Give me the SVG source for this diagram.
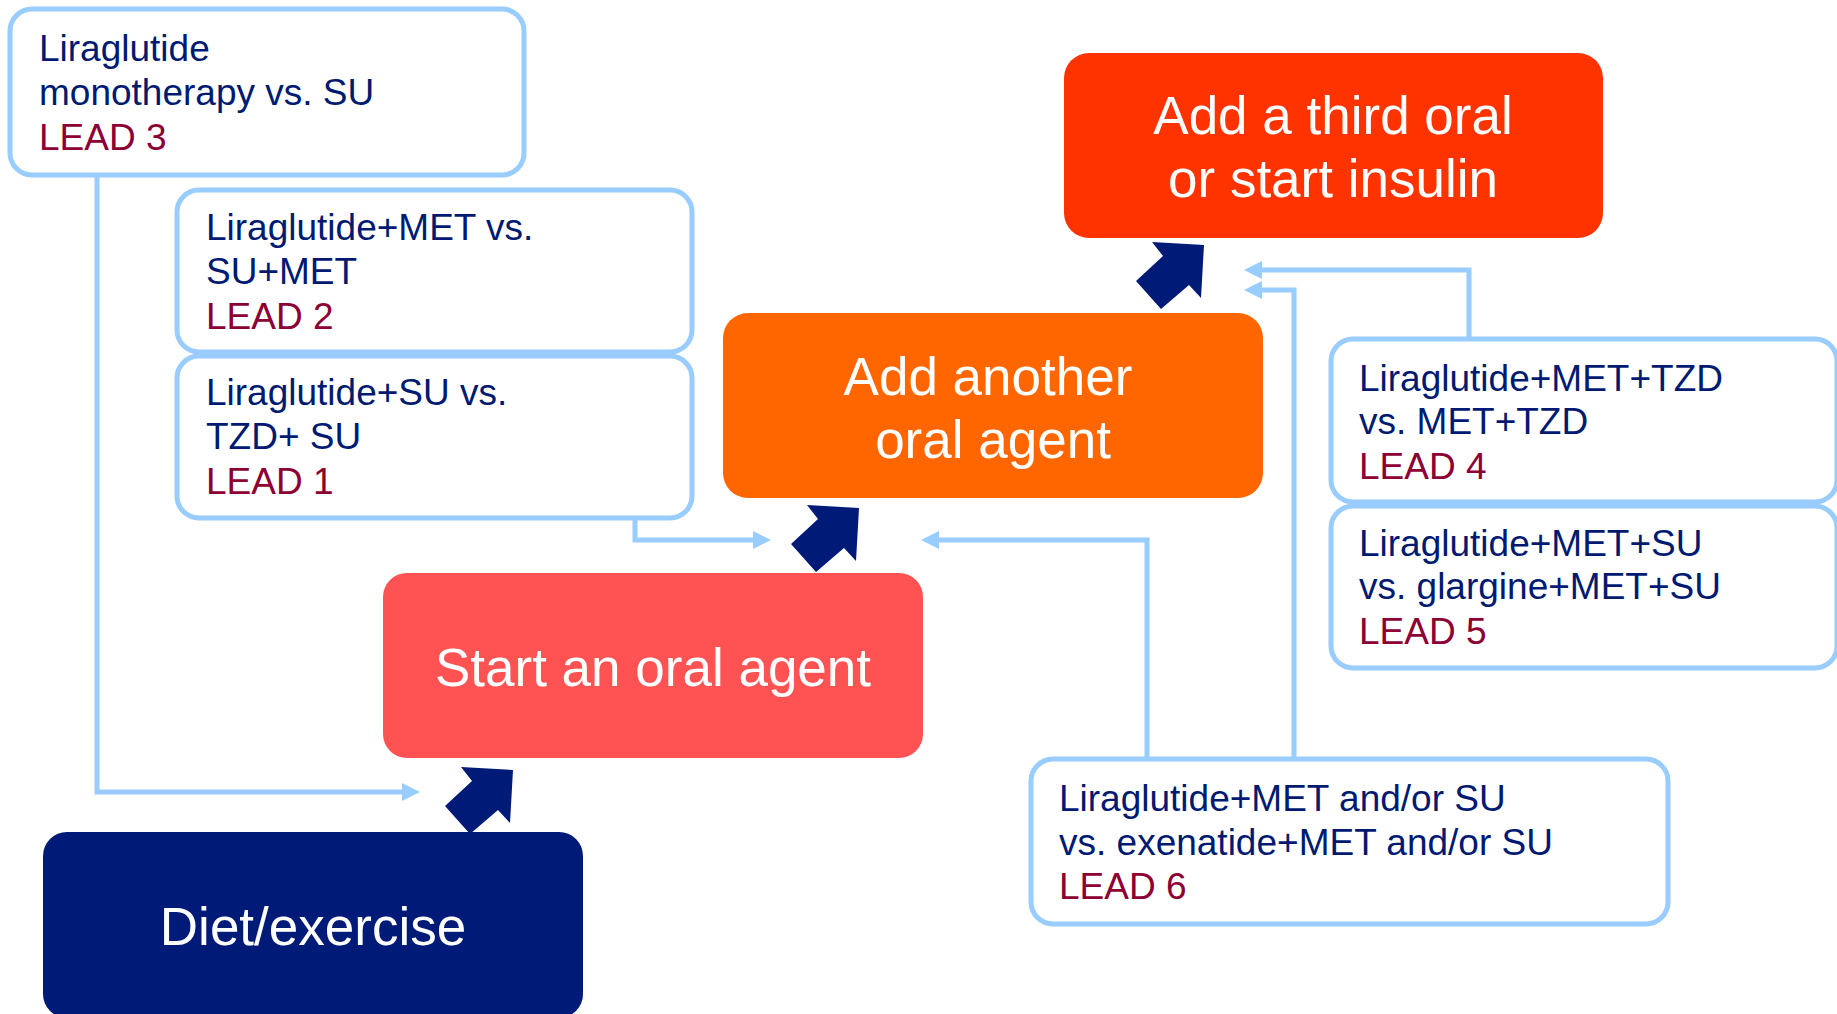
<svg xmlns="http://www.w3.org/2000/svg" width="1837" height="1014" viewBox="0 0 1837 1014">
  <style>
    .tbox { fill: #FFFFFF; stroke: #99CCFF; stroke-width: 5; }
    .t { font-family: "Liberation Sans", Arial, sans-serif; font-size: 37px; fill: #001A72; }
    .lead { fill: #8C0034; }
    .big { font-family: "Liberation Sans", Arial, sans-serif; font-size: 53px; fill: #FFFFFF; text-anchor: middle; }
    .conn { fill: none; stroke: #99CCFF; stroke-width: 5; marker-end: url(#ah); }
    .blk { fill: #001A78; }
  </style>
  <defs>
    <marker id="ah" markerUnits="userSpaceOnUse" viewBox="0 -10 20 20" refX="0" refY="0" markerWidth="20" markerHeight="20" orient="auto">
      <path d="M0,-9 L18,0 L0,9 z" fill="#99CCFF"/>
    </marker>
    <polygon id="bigArrow" points="0,0 52,3 49,56 37,43 9,67 -16,39 11,14"/>
  </defs>
  <rect width="1837" height="1014" fill="#FFFFFF"/>

  <g id="connectors">
    <path class="conn" d="M97,175 V792 H402"/>
    <path class="conn" d="M635,518 V540 H753"/>
    <path class="conn" d="M1147,759 V540 H939"/>
    <path class="conn" d="M1294,759 V290 H1262"/>
    <path class="conn" d="M1469,339 V270 H1262"/>
    <use href="#bigArrow" class="blk" transform="translate(461,767)"/>
    <use href="#bigArrow" class="blk" transform="translate(807,505)"/>
    <use href="#bigArrow" class="blk" transform="translate(1152,242)"/>
  </g>

  <g id="node-lead3">
    <rect class="tbox" x="10" y="9" width="514" height="166" rx="22"/>
    <text class="t" x="39" y="61">Liraglutide</text>
    <text class="t" x="39" y="105">monotherapy vs. SU</text>
    <text class="t lead" x="39" y="150">LEAD 3</text>
  </g>

  <g id="node-lead2">
    <rect class="tbox" x="177" y="190" width="515" height="162" rx="22"/>
    <text class="t" x="206" y="240">Liraglutide+MET vs.</text>
    <text class="t" x="206" y="284">SU+MET</text>
    <text class="t lead" x="206" y="329">LEAD 2</text>
  </g>

  <g id="node-lead1">
    <rect class="tbox" x="177" y="356" width="515" height="162" rx="22"/>
    <text class="t" x="206" y="405">Liraglutide+SU vs.</text>
    <text class="t" x="206" y="449">TZD+ SU</text>
    <text class="t lead" x="206" y="494">LEAD 1</text>
  </g>

  <g id="node-third">
    <rect x="1064" y="53" width="539" height="185" rx="25" fill="#FF3300"/>
    <text class="big" x="1333" y="134">Add a third oral</text>
    <text class="big" x="1333" y="197">or start insulin</text>
  </g>

  <g id="node-another">
    <rect x="723" y="313" width="540" height="185" rx="25" fill="#FF6600"/>
    <text class="big" x="988" y="395">Add another</text>
    <text class="big" x="993" y="458">oral agent</text>
  </g>

  <g id="node-start">
    <rect x="383" y="573" width="540" height="185" rx="24" fill="#FF5353"/>
    <text class="big" x="653" y="686">Start an oral agent</text>
  </g>

  <g id="node-diet">
    <rect x="43" y="832" width="540" height="186" rx="24" fill="#001A78"/>
    <text class="big" x="313" y="945">Diet/exercise</text>
  </g>

  <g id="node-lead4">
    <rect class="tbox" x="1331" y="339" width="506" height="163" rx="22"/>
    <text class="t" x="1359" y="391">Liraglutide+MET+TZD</text>
    <text class="t" x="1359" y="434">vs. MET+TZD</text>
    <text class="t lead" x="1359" y="479">LEAD 4</text>
  </g>

  <g id="node-lead5">
    <rect class="tbox" x="1331" y="506" width="506" height="162" rx="22"/>
    <text class="t" x="1359" y="556">Liraglutide+MET+SU</text>
    <text class="t" x="1359" y="599">vs. glargine+MET+SU</text>
    <text class="t lead" x="1359" y="644">LEAD 5</text>
  </g>

  <g id="node-lead6">
    <rect class="tbox" x="1031" y="759" width="637" height="165" rx="22"/>
    <text class="t" x="1059" y="811">Liraglutide+MET and/or SU</text>
    <text class="t" x="1059" y="855">vs. exenatide+MET and/or SU</text>
    <text class="t lead" x="1059" y="899">LEAD 6</text>
  </g>
</svg>
